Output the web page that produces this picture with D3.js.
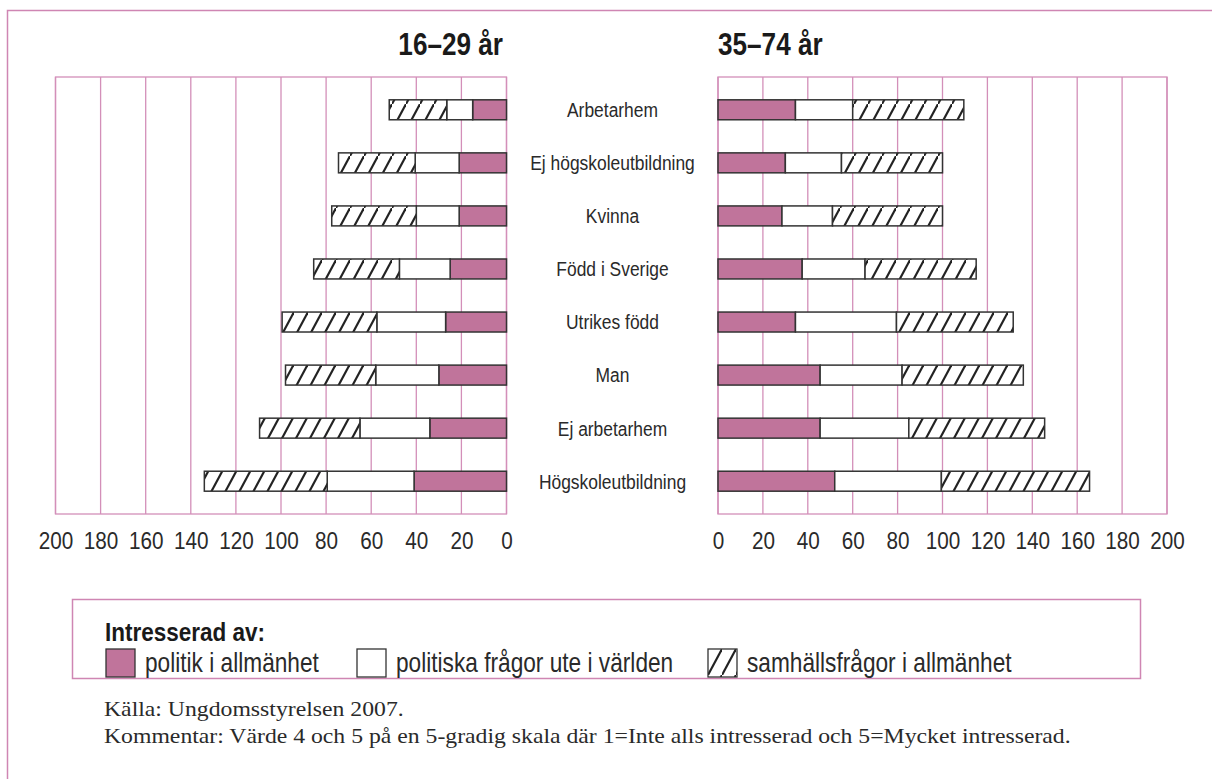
<!DOCTYPE html>
<html>
<head>
    <meta charset="utf-8">
    <title>Intresserad av politik - 16-29 och 35-74 år</title>
    <script src="https://d3js.org/d3.v7.min.js"></script>
    <style>
        body, html {
            margin: 0;
            padding: 0;
            background: #fff;
        }
        /* no narrow font installed, so Liberation Sans is squeezed with scaleX */
        .sans {
            font-family: 'Liberation Sans', Arial, sans-serif;
        }
        .serif {
            font-family: 'Liberation Serif', 'Times New Roman', serif;
        }
    </style>
</head>
<body>
<script>
    // categories, top to bottom
    const categories = ["Arbetarhem", "Ej högskoleutbildning", "Kvinna", "Född i Sverige",
                        "Utrikes född", "Man", "Ej arbetarhem", "Högskoleutbildning"];

    // 16-29 år
    const youngPolitik   = [15, 21, 21, 25, 27, 30, 34, 41];
    const youngVarlden   = [11.5, 19.5, 19, 22.5, 30.5, 28, 31, 38.5];
    const youngSamhalle  = [25.5, 34, 37.5, 38, 42, 40, 44.5, 54.5];

    // 35-74 år
    const oldPolitik     = [34.5, 30, 28.5, 37.5, 34.5, 45.5, 45.5, 52];
    const oldVarlden     = [25.5, 25, 22.5, 28, 45, 36.5, 39.5, 47.5];
    const oldSamhalle    = [49.5, 45, 49, 49.5, 52, 54, 60.5, 66];

    const seriesKeys   = ["politik", "varlden", "samhalle"];
    const seriesLabels = ["politik i allmänhet", "politiska frågor ute i världen", "samhällsfrågor i allmänhet"];
    const tickValues   = [0, 20, 40, 60, 80, 100, 120, 140, 160, 180, 200];

    const width = 1212, height = 779;
    const pink = "#c0749b";
    const gridPink = "#d38fb9";

    const svg = d3.select("body").append("svg")
        .attr("width", width)
        .attr("height", height);

    // hatch pattern for samhällsfrågor
    const defs = svg.append("defs");
    const pat = defs.append("pattern")
        .attr("id", "hatch")
        .attr("patternUnits", "userSpaceOnUse")
        .attr("width", 14)
        .attr("height", 26);
    pat.append("rect").attr("width", 14).attr("height", 26).attr("fill", "#fff");
    pat.append("path")
        .attr("d", "M-2,29.7 L16,-3.7")
        .attr("stroke", "#222")
        .attr("stroke-width", 2.2);

    // helper: text squeezed horizontally around its anchor point
    function squeezed(sel, x, y, sx) {
        return sel.attr("transform", `translate(${x},${y}) scale(${sx},1)`);
    }

    // outer frame
    svg.append("path")
        .attr("d", `M7.5,${height} L7.5,10.5 L${width},10.5`)
        .attr("fill", "none")
        .attr("stroke", "#cf86b3")
        .attr("stroke-width", 1.5);

    const y = d3.scaleBand()
        .domain(categories)
        .range([77, 514])
        .paddingInner(0.624)
        .paddingOuter(0.43);

    const xLeft = d3.scaleLinear().domain([0, 200]).range([506.5, 55.5]);
    const xRight = d3.scaleLinear().domain([0, 200]).range([718, 1167]);

    function rows(p, v, s) {
        return categories.map((c, i) => ({ cat: c, politik: p[i], varlden: v[i], samhalle: s[i] }));
    }

    const fills = { politik: pink, varlden: "#fff", samhalle: "url(#hatch)" };

    function drawPanel(x, data, title, titleAnchor, titleX) {
        const g = svg.append("g");
        const [r0, r1] = x.range();

        // vertical grid lines
        g.append("g")
            .selectAll("line")
            .data(tickValues)
            .join("line")
            .attr("x1", d => x(d))
            .attr("x2", d => x(d))
            .attr("y1", y.range()[0])
            .attr("y2", y.range()[1])
            .attr("stroke", gridPink)
            .attr("stroke-width", 1.3);

        // panel frame
        g.append("rect")
            .attr("x", Math.min(r0, r1))
            .attr("y", y.range()[0])
            .attr("width", Math.abs(r1 - r0))
            .attr("height", y.range()[1] - y.range()[0])
            .attr("fill", "none")
            .attr("stroke", gridPink)
            .attr("stroke-width", 1.3);

        const stacked = d3.stack().keys(seriesKeys)(data);

        g.append("g")
            .selectAll("g")
            .data(stacked)
            .join("g")
            .attr("fill", d => fills[d.key])
            .selectAll("rect")
            .data(d => d)
            .join("rect")
            .attr("x", d => Math.min(x(d[0]), x(d[1])))
            .attr("width", d => Math.abs(x(d[1]) - x(d[0])))
            .attr("y", d => y(d.data.cat))
            .attr("height", y.bandwidth())
            .attr("stroke", "#333")
            .attr("stroke-width", 1.5);

        // axis with numbers below
        const axis = g.append("g")
            .attr("transform", `translate(0,${y.range()[1]})`)
            .call(d3.axisBottom(x).tickValues(tickValues).tickSize(0).tickPadding(19));
        axis.select(".domain").remove();
        axis.selectAll("text")
            .attr("class", "sans")
            .attr("font-size", 23)
            .attr("fill", "#2a2a2a")
            .attr("transform", "scale(0.9,1)");

        svg.append("text")
            .attr("class", "sans")
            .call(squeezed, titleX, 55, 0.83)
            .attr("text-anchor", titleAnchor)
            .attr("font-size", 31.5)
            .attr("font-weight", "bold")
            .attr("fill", "#1a1a1a")
            .text(title);
    }

    drawPanel(xLeft, rows(youngPolitik, youngVarlden, youngSamhalle), "16–29 år", "end", 503);
    drawPanel(xRight, rows(oldPolitik, oldVarlden, oldSamhalle), "35–74 år", "start", 718);

    // category labels in the middle
    svg.append("g")
        .selectAll("text")
        .data(categories)
        .join("text")
        .attr("class", "sans")
        .attr("transform", d => `translate(612.5,${y(d) + y.bandwidth() / 2}) scale(0.83,1)`)
        .attr("dy", "0.35em")
        .attr("text-anchor", "middle")
        .attr("font-size", 21)
        .attr("fill", "#2a2a2a")
        .text(d => d);

    // legend
    const legend = svg.append("g");
    legend.append("rect")
        .attr("x", 72.5).attr("y", 599.5)
        .attr("width", 1068).attr("height", 79)
        .attr("fill", "none")
        .attr("stroke", "#cf86b3")
        .attr("stroke-width", 1.5);
    legend.append("text")
        .attr("class", "sans")
        .call(squeezed, 105, 641, 0.9)
        .attr("font-size", 25)
        .attr("font-weight", "bold")
        .attr("fill", "#1a1a1a")
        .text("Intresserad av:");

    const legendX = [106, 357, 708];
    const item = legend.selectAll("g.item")
        .data(seriesKeys)
        .join("g")
        .attr("class", "item")
        .attr("transform", (d, i) => `translate(${legendX[i]},649)`);
    item.append("rect")
        .attr("width", 29).attr("height", 28)
        .attr("fill", d => fills[d])
        .attr("stroke", "#333")
        .attr("stroke-width", 1.3);
    item.append("text")
        .attr("class", "sans")
        .call(squeezed, 39, 23, 0.84)
        .attr("font-size", 27)
        .attr("fill", "#2a2a2a")
        .text((d, i) => seriesLabels[i]);

    // source and comment
    svg.append("text")
        .attr("class", "serif")
        .call(squeezed, 104, 716, 1.13)
        .attr("font-size", 21)
        .attr("fill", "#2a2a2a")
        .text("Källa: Ungdomsstyrelsen 2007.");
    svg.append("text")
        .attr("class", "serif")
        .call(squeezed, 104, 743, 1.13)
        .attr("font-size", 21)
        .attr("fill", "#2a2a2a")
        .text("Kommentar: Värde 4 och 5 på en 5-gradig skala där 1=Inte alls intresserad och 5=Mycket intresserad.");
</script>
</body>
</html>
